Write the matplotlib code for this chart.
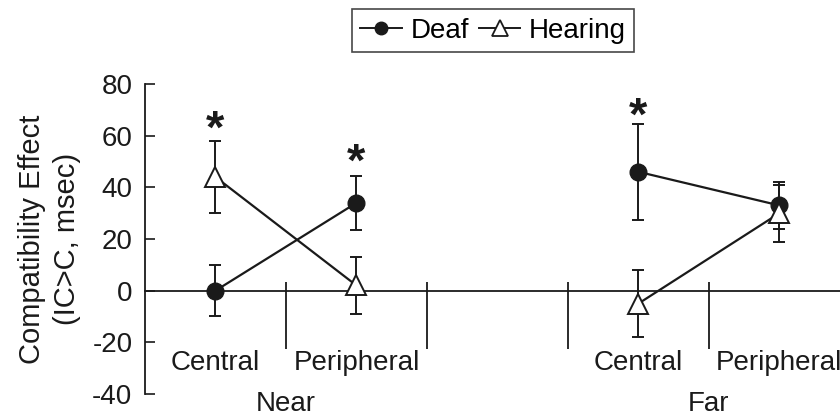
import matplotlib
matplotlib.use('Agg')
import matplotlib.pyplot as plt

# category slots: Near (1, 2), empty slot 3, Far (4, 5)
categories = ['Central', 'Peripheral', 'Central', 'Peripheral']
positions = [1, 2, 4, 5]
groups = ['Near', 'Far']

deaf_mean = [0, 34, 46, 33]
deaf_err = [10, 10.5, 18.5, 9]
hearing_mean = [44, 2, -5, 30]
hearing_err = [14, 11, 13, 11]

# asterisks: (position, y) for significant effects
sig_pos = [1, 2, 4]
sig_y = [62, 49, 67]

ink = '#1a1a1a'
plt.rcParams['font.family'] = ['Liberation Sans', 'DejaVu Sans']
plt.rcParams['axes.unicode_minus'] = False

fig = plt.figure(figsize=(8.4, 4.19), dpi=100)
ax = fig.add_axes([0.1726, 0.0597, 0.8274, 0.7398])

for seg in [(0, 2), (2, 4)]:
    xs = positions[seg[0]:seg[1]]
    ax.errorbar(xs, deaf_mean[seg[0]:seg[1]], yerr=deaf_err[seg[0]:seg[1]],
                color=ink, marker='o', ms=12, mfc=ink, mec=ink, lw=1.6,
                elinewidth=1.4, capsize=4, capthick=1.4, zorder=3)
    ax.errorbar(xs, hearing_mean[seg[0]:seg[1]], yerr=hearing_err[seg[0]:seg[1]],
                color=ink, marker='^', ms=14, mfc='white', mec=ink, mew=1.4, lw=1.6,
                elinewidth=1.4, capsize=4, capthick=1.4, zorder=3)

# legend handles
h1, = ax.plot([], [], color=ink, marker='o', ms=9, lw=1.4)
h2, = ax.plot([], [], color=ink, marker='^', ms=11, mfc='white', mew=1.3, lw=1.4)
leg = fig.legend([h1, h2], ['Deaf', 'Hearing'], loc='upper center',
                 bbox_to_anchor=(0.587, 0.978), ncol=2, fontsize=20,
                 frameon=True, fancybox=False, handlelength=1.5,
                 handletextpad=0.3, columnspacing=0.35, borderpad=0.3,
                 borderaxespad=0)
leg.get_frame().set_edgecolor(ink)
leg.get_frame().set_linewidth(1.2)

for x, y in zip(sig_pos, sig_y):
    ax.text(x, y, '*', ha='center', va='center', fontsize=34, fontweight='bold', color=ink)

ax.set_xlim(0.5, 5.43)
ax.set_ylim(-40, 80)
ax.set_yticks([-40, -20, 0, 20, 40, 60, 80])
ax.tick_params(axis='y', direction='in', length=7, width=1.2, labelsize=20, colors=ink, pad=9)
ax.set_xticks([])

for s in ['top', 'right']:
    ax.spines[s].set_visible(False)
ax.spines['bottom'].set_position(('data', 0))
ax.spines['left'].set_bounds(-40, 80)
for s in ['left', 'bottom']:
    ax.spines[s].set_color(ink)
    ax.spines[s].set_linewidth(1.3)

# separators between slots
seps = [p + 0.5 for p in range(1, 5)]
ax.vlines(seps, -22.5, 3.5, color=ink, lw=1.3)

for x, lab in zip(positions, categories):
    ax.text(x, -28, lab, ha='center', va='center', fontsize=20, color=ink, clip_on=False)
for x, g in zip([1.5, 4.5], groups):
    ax.text(x, -44, g, ha='center', va='center', fontsize=20, color=ink, clip_on=False)

ax.set_ylabel('Compatibility Effect\n(IC>C, msec)', fontsize=21, color=ink, linespacing=1.3)
ax.yaxis.set_label_coords(-0.092, 0.5)

fig.savefig('out.png', dpi=100)
